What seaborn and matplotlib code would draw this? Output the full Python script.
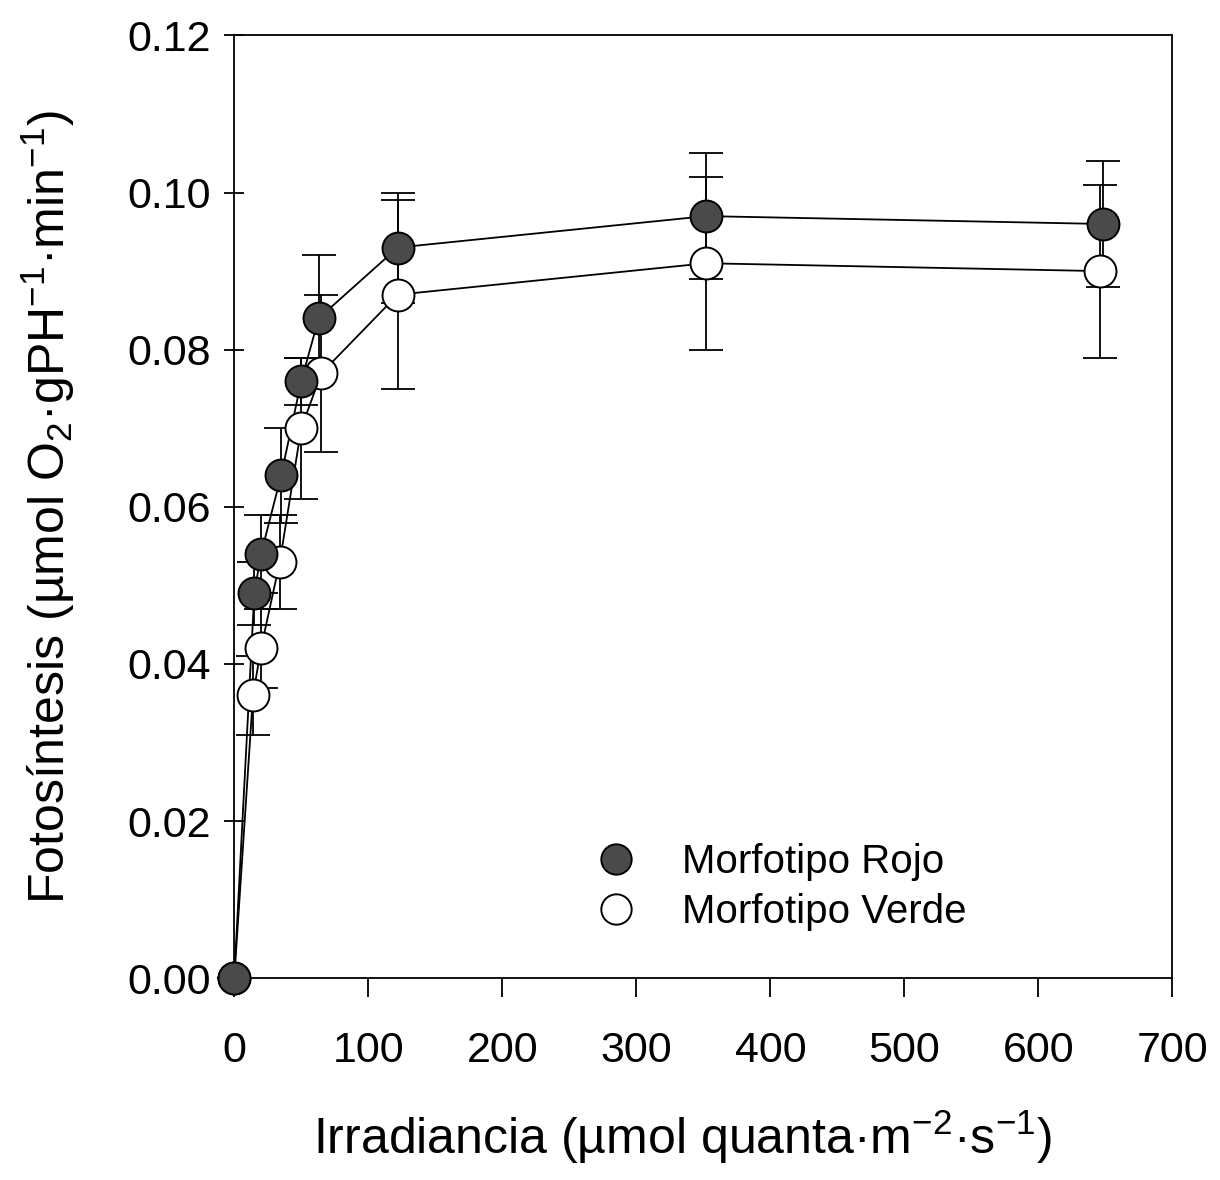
import numpy as np
import pandas as pd
import matplotlib
matplotlib.use("Agg")
import matplotlib.pyplot as plt
import seaborn as sns

# Data
irr_rojo = [0, 15, 20, 35, 50, 63, 122, 352, 648]
foto_rojo = [0.0, 0.049, 0.054, 0.064, 0.076, 0.084, 0.093, 0.097, 0.096]
err_rojo = [0.0, 0.004, 0.005, 0.006, 0.003, 0.008, 0.007, 0.008, 0.008]

irr_verde = [0, 14, 20, 34, 50, 65, 122, 352, 646]
foto_verde = [0.0, 0.036, 0.042, 0.053, 0.070, 0.077, 0.087, 0.091, 0.090]
err_verde = [0.0, 0.005, 0.005, 0.006, 0.009, 0.010, 0.012, 0.011, 0.011]

labels = ["Morfotipo Rojo", "Morfotipo Verde"]
xticks = [0, 100, 200, 300, 400, 500, 600, 700]
yticks = [0.00, 0.02, 0.04, 0.06, 0.08, 0.10, 0.12]

sns.set_style("ticks")
plt.rcParams["font.family"] = ["Liberation Sans", "DejaVu Sans"]
plt.rcParams["mathtext.fontset"] = "custom"
plt.rcParams["mathtext.rm"] = "Liberation Sans"
plt.rcParams["mathtext.it"] = "Liberation Sans:italic"
plt.rcParams["mathtext.bf"] = "Liberation Sans:bold"
plt.rcParams["text.color"] = "black"
plt.rcParams["axes.labelcolor"] = "black"

df = pd.concat([
    pd.DataFrame({"x": irr_rojo, "y": foto_rojo, "err": err_rojo, "serie": labels[0]}),
    pd.DataFrame({"x": irr_verde, "y": foto_verde, "err": err_verde, "serie": labels[1]}),
])

fig = plt.figure(figsize=(12.2, 11.8), dpi=100)
ax = fig.add_axes([0.192, 0.171, 0.769, 0.799])

styles = {labels[0]: "#4a4a4a", labels[1]: "white"}
for lab in labels:
    d = df[df["serie"] == lab]
    ax.errorbar(d["x"], d["y"], yerr=d["err"], fmt="none", ecolor="black",
                elinewidth=1.3, capsize=12, capthick=1.3, zorder=2, clip_on=False)

sns.lineplot(data=df, x="x", y="y", hue="serie", palette={l: "black" for l in labels},
             linewidth=1.3, legend=False, ax=ax, sort=False, zorder=3)
handles = {}
for lab, z in [(labels[1], 4), (labels[0], 5)]:
    d = df[df["serie"] == lab]
    h, = ax.plot(d["x"], d["y"], linestyle="none", marker="o", markersize=23,
                 markerfacecolor=styles[lab], markeredgecolor="black", markeredgewidth=1.4,
                 zorder=z, clip_on=False, label=lab)
    handles[lab] = h

ax.set_xlim(0, 700)
ax.set_ylim(0, 0.12)
ax.set_xticks(xticks)
ax.set_yticks(yticks)
ax.set_xticklabels([str(t) for t in xticks])
ax.set_yticklabels([f"{t:.2f}" for t in yticks])
ax.tick_params(axis="both", labelsize=31, width=1.3, length=14, colors="black")
ax.tick_params(axis="y", direction="inout", pad=10)
ax.tick_params(axis="x", direction="out", pad=24)
for s in ax.spines.values():
    s.set_visible(True)
    s.set_linewidth(1.3)
    s.set_color("black")

ax.set_xlabel("Irradiancia (µmol quanta·m$^{-2}$·s$^{-1}$)", fontsize=36)
ax.xaxis.set_label_coords(0.478, -0.138)
ax.set_ylabel("Fotosíntesis (µmol O$_2$·gPH$^{-1}$·min$^{-1}$)", fontsize=36, labelpad=36)

leg = ax.legend(handles=[handles[labels[0]], handles[labels[1]]], labels=labels,
                loc="center left", bbox_to_anchor=(0.385, 0.0965), frameon=False,
                fontsize=29, handlelength=1.0, handletextpad=1.15, labelspacing=0.3,
                borderpad=0, borderaxespad=0, numpoints=1, markerscale=0.95)

fig.savefig("out.png", dpi=100, facecolor="white")
